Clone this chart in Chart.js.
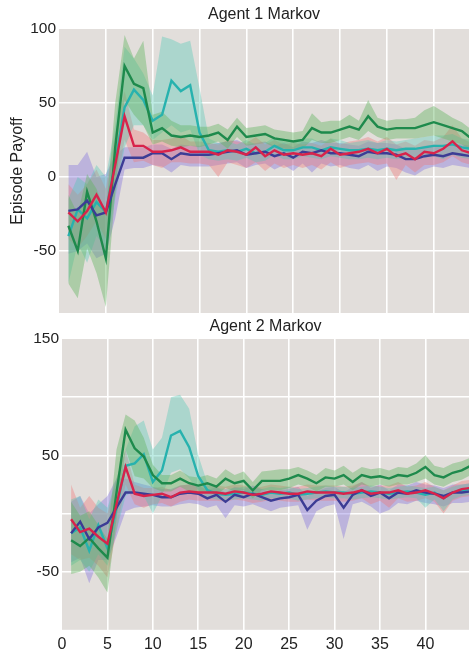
<!DOCTYPE html>
<html>
<head>
<meta charset="utf-8">
<title>Agent Markov episode payoff</title>
<script src="https://cdn.jsdelivr.net/npm/chart.js@4/dist/chart.umd.min.js"></script>
<style>
  html, body { margin: 0; padding: 0; background: #ffffff; overflow: hidden; width: 469px; height: 651px; }
  canvas { position: absolute; left: 0; }
  #agent1 { top: 0; }
  #agent2 { top: 316px; }
</style>
</head>
<body>
<canvas id="agent1" width="469" height="316"></canvas>
<canvas id="agent2" width="469" height="343"></canvas>
<script>
// ---- Episodes ----
const episodes1 = [1,2,3,4,5,6,7,8,9,10,11,12,13,14,15,16,17,18,19,20,21,22,23,24,25,26,27,28,29,30,31,32,33,34,35,36,37,38,39,40,41,42,43,44];
const episodes2 = [1,2,3,4,5,6,7,8,9,10,11,12,13,14,15,16,17,18,19,20,21,22,23,24,25,26,27,28,29,30,31,32,33,34,35,36,37,38,39,40,41,42,43,44,45];

// ---- Agent 1: mean payoff and band (upper / lower) per learner ----
const agent1Green   = [-33,-50,-10,-30,-55,20,75,63,60,30,33,28,27,28,27,28,30,25,34,27,28,29,26,25,24,25,33,30,30,32,34,32,41,34,32,33,33,33,35,37,35,33,31,26];
const agent1GreenHi = [-12,-25,2,-8,-25,50,96,80,92,42,44,38,35,35,34,34,36,32,40,33,34,35,32,31,30,31,43,37,38,38,42,38,52,40,38,39,39,40,45,48,44,40,37,32];
const agent1GreenLo = [-72,-82,-48,-65,-88,-10,52,42,35,22,24,21,20,21,20,22,24,19,27,21,22,23,20,19,18,19,25,23,23,25,27,25,31,27,25,26,26,26,27,28,26,24,22,18];

const agent1Teal    = [-40,-22,-28,-17,-24,10,47,59,52,38,42,65,58,62,30,18,17,18,17,19,16,17,21,18,18,20,20,18,20,19,18,18,19,18,19,18,19,19,20,21,21,22,20,19];
const agent1TealHi  = [-15,0,-5,8,0,35,88,80,70,55,95,93,90,92,60,26,23,24,22,25,22,23,27,24,23,26,26,23,26,25,23,24,25,23,25,24,25,26,27,28,28,29,26,25];
const agent1TealLo  = [-72,-45,-58,-40,-48,-15,20,35,35,25,30,35,30,32,15,12,11,12,11,13,10,11,15,12,12,14,13,12,14,13,12,12,13,12,13,12,13,12,13,14,12,15,13,12];

const agent1Red     = [-24,-30,-23,-12,-24,8,41,21,21,17,17,18,20,17,17,17,15,18,17,15,20,14,18,15,16,15,16,14,19,15,16,17,19,16,19,14,16,12,17,16,19,24,18,16];
const agent1RedHi   = [-5,-12,-5,5,-8,30,58,32,30,25,25,26,28,24,24,23,22,25,24,23,27,22,25,22,23,22,23,21,26,22,24,25,27,24,27,22,24,21,25,24,27,35,26,23];
const agent1RedLo   = [-42,-48,-40,-30,-42,-12,25,10,11,8,6,10,10,9,9,8,0,10,8,6,10,4,9,6,8,6,8,5,10,6,8,9,10,8,9,-2,8,3,8,8,10,14,10,8];

const agent1Blue    = [-23,-22,-16,-26,-24,-5,13,13,13,16,16,12,16,15,15,15,16,17,18,15,16,17,14,16,13,17,16,18,16,16,15,14,17,16,16,15,12,12,14,15,14,16,15,14];
const agent1BlueHi  = [8,8,17,0,2,15,20,20,20,22,22,19,22,21,21,22,23,24,25,22,23,24,21,23,20,24,23,25,23,23,22,21,24,23,23,22,19,19,21,22,21,23,22,21];
const agent1BlueLo  = [-52,-50,-45,-55,-52,-28,5,6,6,8,7,3,8,7,7,7,8,9,10,6,8,9,5,8,4,9,3,9,7,8,6,5,8,4,7,6,3,1,5,7,6,8,7,6];

// ---- Agent 2: mean payoff and band (upper / lower) per learner ----
const agent2Green   = [-23,-28,-21,-30,-38,18,72,56,49,33,26,26,30,26,24,26,23,30,26,28,20,28,28,28,30,33,30,26,31,30,33,27,33,31,32,30,33,32,35,40,33,31,35,37,41];
const agent2GreenHi = [10,-2,2,-10,-22,55,85,80,65,42,33,33,37,32,31,33,30,38,33,36,27,36,37,38,38,40,37,33,39,37,41,35,40,38,39,37,40,39,43,50,41,39,43,45,48];
const agent2GreenLo = [-52,-50,-45,-55,-68,-5,55,32,30,22,19,19,23,19,17,19,16,22,19,20,13,20,20,20,22,25,23,19,23,23,25,20,25,23,25,23,25,25,27,30,25,23,27,29,33];

const agent2Teal    = [-17,-12,-32,-10,-30,5,41,43,51,27,37,67,71,57,32,20,17,16,17,18,17,16,18,17,18,16,17,18,19,18,18,17,18,19,18,17,18,19,18,16,18,13,18,20,21];
const agent2TealHi  = [12,15,-5,12,5,30,55,75,80,55,65,100,102,90,50,26,22,21,22,23,22,21,23,22,23,21,22,23,24,23,23,22,23,24,23,22,23,24,23,22,23,20,23,25,26];
const agent2TealLo  = [-45,-40,-50,-35,-45,-15,15,20,15,0,15,35,38,30,20,14,12,11,12,13,12,11,13,12,13,11,12,13,14,13,13,12,13,14,13,12,13,14,13,5,12,2,12,15,16];

const agent2Red     = [-5,-16,-13,-20,-26,8,40,17,15,16,17,14,18,19,18,18,18,17,19,18,16,17,19,18,17,17,19,18,18,18,17,18,20,17,18,18,20,17,18,20,17,13,18,21,22];
const agent2RedHi   = [25,5,15,5,0,30,55,25,22,22,23,20,24,25,24,24,24,23,25,24,22,23,25,24,23,23,25,24,24,24,23,24,27,23,24,24,27,23,24,27,23,20,24,28,29];
const agent2RedLo   = [-35,-40,-38,-45,-55,-15,25,8,5,8,9,6,10,12,11,11,11,10,12,11,9,10,12,11,10,10,12,11,11,11,10,11,13,8,11,5,13,10,11,13,10,0,11,14,15];

const agent2Blue    = [-17,-7,-22,-12,-8,5,18,18,17,16,14,14,17,18,17,13,16,10,16,14,17,14,11,13,14,16,3,11,15,16,5,16,20,15,18,13,18,17,20,18,17,15,18,18,19];
const agent2BlueHi  = [10,15,0,8,15,30,30,27,25,23,21,21,24,25,24,20,23,18,23,21,24,21,18,20,21,23,15,19,22,23,18,23,27,22,25,20,25,24,27,25,24,22,25,25,26];
const agent2BlueLo  = [-42,-38,-60,-40,-40,-20,2,5,6,7,6,6,8,9,8,5,7,-4,7,6,8,5,2,5,6,7,-14,2,6,8,-22,8,10,6,0,3,9,8,11,9,8,6,9,9,10];

// ---- Axis ticks ----
const xTickValues = [0, 5, 10, 15, 20, 25, 30, 35, 40];
const agent1YGrid = [100, 50, 0, -50];
const agent1YLabels = [100, 50, 0, -50];
const agent2YGrid = [150, 100, 50, 0, -50, -100];
const agent2YLabels = [150, 50, -50];

// ---- Styling ----
const palette = {
  green: { line: '#1e8a4c', band: 'rgba(98,178,96,0.42)' },
  teal:  { line: '#27b2ae', band: 'rgba(76,200,180,0.36)' },
  red:   { line: '#d8234b', band: 'rgba(238,118,118,0.38)' },
  blue:  { line: '#3c3c95', band: 'rgba(126,110,222,0.38)' }
};
const plotBg = '#e2dedb';
const textColor = '#222222';
Chart.defaults.font.family = "'Liberation Sans', Arial, sans-serif";

const pts = (xs, ys) => xs.map((x, i) => ({ x: x, y: ys[i] }));

// upper band edge fills down to the lower edge that follows it
function band(xs, hi, lo, col) {
  return [
    { data: pts(xs, hi), borderWidth: 0, pointRadius: 0, backgroundColor: col.band, fill: '+1', order: 1 },
    { data: pts(xs, lo), borderWidth: 0, pointRadius: 0, backgroundColor: col.band, fill: false, order: 1 }
  ];
}
function line(xs, ys, col) {
  return { data: pts(xs, ys), borderColor: col.line, borderWidth: 2.4, pointRadius: 0, fill: false, order: 0 };
}

function buildDatasets(xs, s) {
  return [
    ...band(xs, s.greenHi, s.greenLo, palette.green),
    ...band(xs, s.tealHi, s.tealLo, palette.teal),
    ...band(xs, s.redHi, s.redLo, palette.red),
    ...band(xs, s.blueHi, s.blueLo, palette.blue),
    line(xs, s.red, palette.red),
    line(xs, s.blue, palette.blue),
    line(xs, s.green, palette.green),
    line(xs, s.teal, palette.teal)
  ];
}

// fills the plotting area behind grid and data
const plotBackground = {
  id: 'plotBackground',
  beforeDraw(chart, args, opts) {
    const { ctx, chartArea: a } = chart;
    ctx.save();
    ctx.fillStyle = opts.color;
    ctx.fillRect(a.left, a.top, a.right - a.left, a.bottom - a.top);
    ctx.restore();
  }
};

const edgeless = c => (c.tick && (c.tick.value === c.scale.min || c.tick.value === c.scale.max)) ? 'rgba(0,0,0,0)' : '#ffffff';

function makeOptions(cfg) {
  return {
    responsive: false,
    animation: false,
    events: [],
    layout: { autoPadding: false, padding: cfg.padding },
    elements: { line: { tension: 0 } },
    plugins: {
      legend: { display: false },
      tooltip: { enabled: false },
      plotBackground: { color: plotBg },
      title: {
        display: true, text: cfg.title, color: textColor, fullSize: false,
        font: { size: 16, weight: 'normal' },
        padding: cfg.titlePadding
      }
    },
    scales: {
      x: {
        type: 'linear', min: 0, max: cfg.xMax,
        border: { display: false },
        afterBuildTicks: s => { s.ticks = xTickValues.map(v => ({ value: v })); },
        afterFit: s => { s.paddingLeft = 0; s.paddingRight = 0; },
        grid: { color: edgeless, lineWidth: 1.6, drawTicks: false },
        ticks: {
          display: cfg.showX, padding: 5, color: textColor, autoSkip: false, maxRotation: 0,
          font: { size: 16 }, callback: v => String(v)
        }
      },
      y: {
        type: 'linear', min: cfg.yMin, max: cfg.yMax,
        border: { display: false },
        afterBuildTicks: s => { s.ticks = cfg.yGrid.map(v => ({ value: v })); },
        afterFit: s => { s.width = cfg.axisWidth; s.paddingTop = 0; s.paddingBottom = 0; },
        grid: { color: edgeless, lineWidth: 1.6, drawTicks: false },
        ticks: {
          padding: 3, color: textColor, font: { size: 15.5 },
          callback: v => cfg.yLabels.includes(v) ? String(v) : ''
        },
        title: {
          display: !!cfg.yTitle, text: cfg.yTitle || '', color: textColor,
          font: { size: 16 }, padding: { top: 8.4, bottom: 0 }
        }
      }
    }
  };
}

new Chart(document.getElementById('agent1'), {
  type: 'line',
  data: {
    datasets: buildDatasets(episodes1, {
      green: agent1Green, greenHi: agent1GreenHi, greenLo: agent1GreenLo,
      teal: agent1Teal, tealHi: agent1TealHi, tealLo: agent1TealLo,
      red: agent1Red, redHi: agent1RedHi, redLo: agent1RedLo,
      blue: agent1Blue, blueHi: agent1BlueHi, blueLo: agent1BlueLo
    })
  },
  options: makeOptions({
    title: 'Agent 1 Markov', titlePadding: { top: 5.4, bottom: 4.4 },
    padding: { left: 0, right: 0, top: 0, bottom: 3 },
    xMax: 43.76, showX: false,
    yMin: -92, yMax: 100, yGrid: agent1YGrid, yLabels: agent1YLabels,
    axisWidth: 59, yTitle: 'Episode Payoff'
  }),
  plugins: [plotBackground]
});

new Chart(document.getElementById('agent2'), {
  type: 'line',
  data: {
    datasets: buildDatasets(episodes2, {
      green: agent2Green, greenHi: agent2GreenHi, greenLo: agent2GreenLo,
      teal: agent2Teal, tealHi: agent2TealHi, tealLo: agent2TealLo,
      red: agent2Red, redHi: agent2RedHi, redLo: agent2RedLo,
      blue: agent2Blue, blueHi: agent2BlueHi, blueLo: agent2BlueLo
    })
  },
  options: makeOptions({
    title: 'Agent 2 Markov', titlePadding: { top: 1.4, bottom: 2.4 },
    padding: { left: 0, right: 0, top: 0, bottom: 0 },
    xMax: 44.8, showX: true,
    yMin: -100, yMax: 150, yGrid: agent2YGrid, yLabels: agent2YLabels,
    axisWidth: 62, yTitle: ''
  }),
  plugins: [plotBackground]
});
</script>
</body>
</html>
